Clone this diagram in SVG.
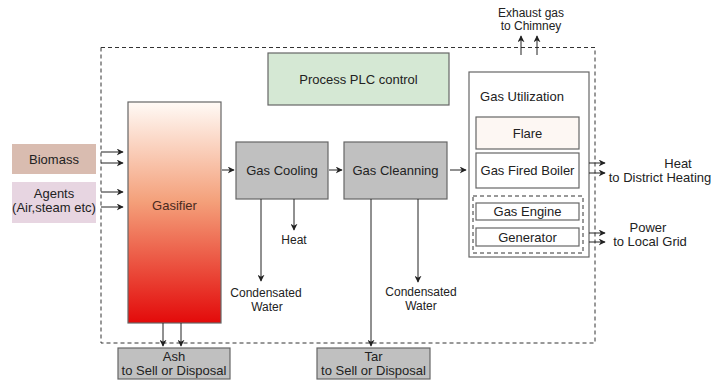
<svg xmlns="http://www.w3.org/2000/svg" width="720" height="381" viewBox="0 0 720 381">
  <defs>
    <linearGradient id="gasifierFill" x1="0" y1="0" x2="0" y2="1">
      <stop offset="0" stop-color="#fffaf6"/>
      <stop offset="0.45" stop-color="#f4a07a"/>
      <stop offset="1" stop-color="#e30a0a"/>
    </linearGradient>
    <marker id="arr" viewBox="0 0 10 10" refX="9" refY="5" markerWidth="7" markerHeight="7" markerUnits="userSpaceOnUse" orient="auto">
      <path d="M0,0 L10,5 L0,10 L3,5 Z" fill="#222"/>
    </marker>
  </defs>
  <style>
    text { font-family: "Liberation Sans", Arial, sans-serif; fill: #222; text-anchor: middle; }
    .t13 { font-size: 13px; }
    .t12 { font-size: 12px; }
    .box { stroke: #666; stroke-width: 1.2; }
    .grey { fill: #c0c0c0; }
    .dash { fill: none; stroke: #333; stroke-width: 1; stroke-dasharray: 4 3; }
    .flow { fill: none; stroke: #222; stroke-width: 1; marker-end: url(#arr); }
  </style>
  <rect width="720" height="381" fill="#fff"/>

  <!-- system boundary -->
  <rect class="dash" x="101" y="47.5" width="494" height="295.5"/>

  <g id="plc">
    <rect class="box" x="268" y="53" width="181" height="52" fill="#d5e8d4"/>
    <text class="t13" x="358.5" y="84">Process PLC control</text>
  </g>

  <g id="biomass">
    <rect x="12" y="144" width="84" height="30" fill="#d9bcb0"/>
    <text class="t13" x="54" y="164">Biomass</text>
  </g>

  <g id="agents">
    <rect x="12" y="182" width="84" height="41" fill="#e7d5e1"/>
    <text class="t13" x="54" y="198">Agents</text>
    <text class="t13" x="54" y="212">(Air,steam etc)</text>
  </g>

  <g id="gasifier">
    <rect class="box" x="128" y="102" width="93" height="221" fill="url(#gasifierFill)"/>
    <text class="t13" x="174.5" y="210" style="fill:#4a2a20">Gasifier</text>
  </g>

  <g id="gas-cooling">
    <rect class="box grey" x="236" y="142" width="92" height="57"/>
    <text class="t13" x="282" y="175">Gas Cooling</text>
  </g>

  <g id="gas-cleaning">
    <rect class="box grey" x="344" y="142" width="103" height="57"/>
    <text class="t13" x="395.5" y="175">Gas Cleanning</text>
  </g>

  <g id="gas-utilization">
    <rect class="box" x="469" y="72" width="120" height="185" fill="#fff"/>
    <text class="t13" x="522" y="101">Gas Utilization</text>
  </g>

  <g id="flare">
    <rect class="box" x="476" y="117" width="103" height="32" fill="#fdf7f3"/>
    <text class="t13" x="527.5" y="138">Flare</text>
  </g>

  <g id="boiler">
    <rect class="box" x="476" y="153" width="103" height="35" fill="#fff"/>
    <text class="t13" x="527.5" y="175">Gas Fired Boiler</text>
  </g>

  <g id="engine-set">
    <rect class="dash" x="473" y="196" width="110" height="57"/>
  </g>

  <g id="gas-engine">
    <rect class="box" x="476" y="203" width="103" height="17" fill="#fff"/>
    <text class="t13" x="527.5" y="216">Gas Engine</text>
  </g>

  <g id="generator">
    <rect class="box" x="476" y="228" width="103" height="18" fill="#fff"/>
    <text class="t13" x="527.5" y="241.5">Generator</text>
  </g>

  <g id="ash">
    <rect class="box grey" x="118" y="348" width="112" height="31"/>
    <text class="t13" x="174" y="361">Ash</text>
    <text class="t13" x="174" y="375">to Sell or Disposal</text>
  </g>

  <g id="tar">
    <rect class="box grey" x="317" y="348" width="113" height="31"/>
    <text class="t13" x="373.5" y="361">Tar</text>
    <text class="t13" x="373.5" y="375">to Sell or Disposal</text>
  </g>

  <!-- outputs outside the boundary -->
  <g id="exhaust-label">
    <text class="t12" x="531" y="17">Exhaust gas</text>
    <text class="t12" x="531" y="29.5">to Chimney</text>
  </g>
  <g id="heat-label">
    <text class="t13" x="678" y="168">Heat</text>
    <text class="t13" x="660" y="182">to District Heating</text>
  </g>
  <g id="power-label">
    <text class="t13" x="648" y="232">Power</text>
    <text class="t13" x="650" y="246">to Local Grid</text>
  </g>
  <g id="cooling-outputs">
    <text class="t12" x="294" y="244">Heat</text>
    <text class="t12" x="266" y="297">Condensated</text>
    <text class="t12" x="267" y="311">Water</text>
  </g>
  <g id="cleaning-outputs">
    <text class="t12" x="421" y="296">Condensated</text>
    <text class="t12" x="421" y="310">Water</text>
  </g>

  <g id="connectors">
    <!-- feedstock and agents into the gasifier -->
    <line class="flow" x1="101" y1="152" x2="123" y2="152"/>
    <line class="flow" x1="101" y1="163" x2="123" y2="163"/>
    <line class="flow" x1="101" y1="192" x2="123" y2="192"/>
    <line class="flow" x1="101" y1="207" x2="123" y2="207"/>
    <!-- main gas train -->
    <line class="flow" x1="222" y1="170" x2="234" y2="170"/>
    <line class="flow" x1="329" y1="170" x2="342" y2="170"/>
    <line class="flow" x1="450" y1="170" x2="466" y2="170"/>
    <!-- by-products -->
    <line class="flow" x1="261" y1="199" x2="261" y2="281"/>
    <line class="flow" x1="294" y1="199" x2="294" y2="230"/>
    <line class="flow" x1="371" y1="199" x2="371" y2="346"/>
    <line class="flow" x1="418" y1="199" x2="418" y2="282"/>
    <line class="flow" x1="163" y1="323" x2="163" y2="346"/>
    <line class="flow" x1="181" y1="323" x2="181" y2="346"/>
    <!-- exhaust -->
    <line class="flow" x1="521" y1="55" x2="521" y2="36"/>
    <line class="flow" x1="537" y1="55" x2="537" y2="36"/>
    <!-- heat and power export -->
    <line class="flow" x1="589" y1="163" x2="605" y2="163"/>
    <line class="flow" x1="589" y1="173" x2="605" y2="173"/>
    <line class="flow" x1="589" y1="233" x2="605" y2="233"/>
    <line class="flow" x1="589" y1="242" x2="605" y2="242"/>
  </g>
</svg>
